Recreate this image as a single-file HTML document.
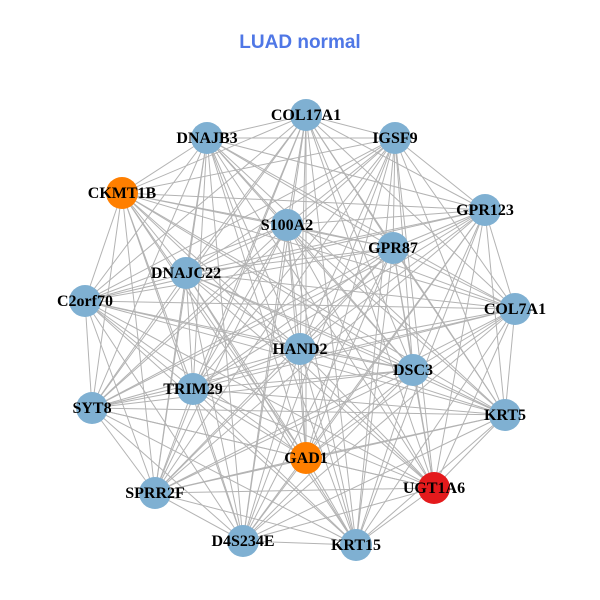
<!DOCTYPE html>
<html><head><meta charset="utf-8"><style>
html,body{margin:0;padding:0;background:#fff;width:600px;height:600px;overflow:hidden}
svg{display:block}
</style></head><body>
<svg id="g" width="600" height="600" xmlns="http://www.w3.org/2000/svg">
<text x="300" y="48" text-anchor="middle" font-family="Liberation Sans, sans-serif" font-weight="bold" font-size="19" fill="#4f77e6">LUAD normal</text>
<g id="edges" stroke="#b3b3b3" stroke-width="1"></g>
<g id="nodes"></g>
<g id="labels" font-family="Liberation Serif, serif" font-weight="bold" font-size="16" text-anchor="middle" fill="#000"></g>
</svg>
<script>
var N=[["COL17A1",306,115,"#7fb0d2"],["IGSF9",395,138,"#7fb0d2"],["DNAJB3",207,138,"#7fb0d2"],["CKMT1B",122,193,"#ff7f00"],["GPR123",485,210,"#7fb0d2"],["S100A2",287,225,"#7fb0d2"],["GPR87",393,248,"#7fb0d2"],["DNAJC22",186,273,"#7fb0d2"],["C2orf70",85,301,"#7fb0d2"],["COL7A1",515,309,"#7fb0d2"],["HAND2",300,349,"#7fb0d2"],["DSC3",413,370,"#7fb0d2"],["TRIM29",193,389,"#7fb0d2"],["SYT8",92,408,"#7fb0d2"],["KRT5",505,415,"#7fb0d2"],["GAD1",306,458,"#ff7f00"],["UGT1A6",434,488,"#e41a1c"],["SPRR2F",155,493,"#7fb0d2"],["D4S234E",243,541,"#7fb0d2"],["KRT15",356,545,"#7fb0d2"]];
var ns="http://www.w3.org/2000/svg",E=document.getElementById("edges"),Nd=document.getElementById("nodes"),L=document.getElementById("labels");
for(var i=0;i<N.length;i++)for(var j=i+1;j<N.length;j++){var l=document.createElementNS(ns,"line");l.setAttribute("x1",N[i][1]);l.setAttribute("y1",N[i][2]);l.setAttribute("x2",N[j][1]);l.setAttribute("y2",N[j][2]);E.appendChild(l);}
N.forEach(function(n){var c=document.createElementNS(ns,"circle");c.setAttribute("cx",n[1]);c.setAttribute("cy",n[2]);c.setAttribute("r",16);c.setAttribute("fill",n[3]);Nd.appendChild(c);var t=document.createElementNS(ns,"text");t.setAttribute("x",n[1]);t.setAttribute("y",n[2]+5);t.textContent=n[0];L.appendChild(t);});
</script>
</body></html>
